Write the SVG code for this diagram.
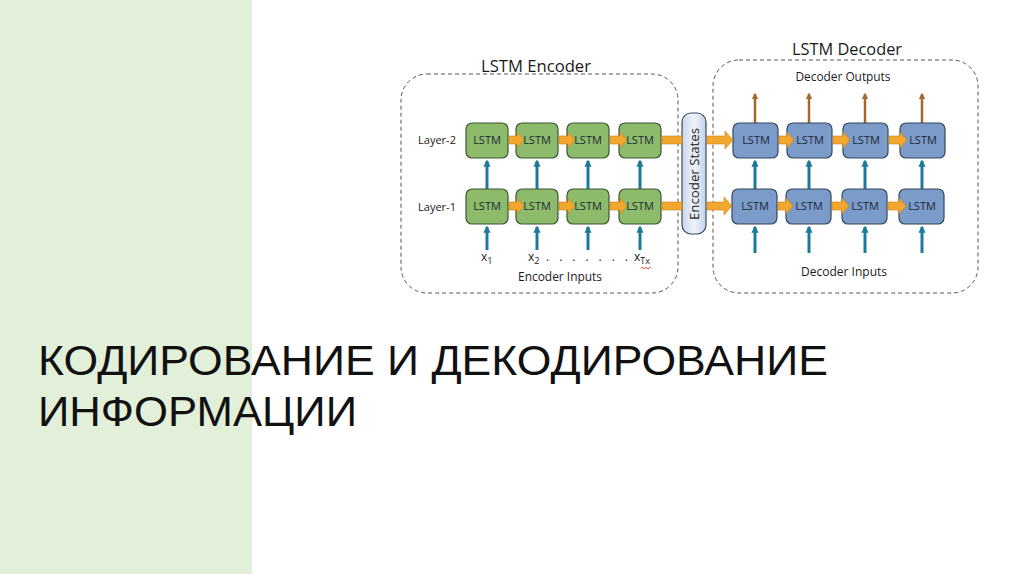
<svg xmlns="http://www.w3.org/2000/svg" width="1024" height="574" viewBox="0 0 1024 574">
<defs>
<style>
.txt{font-family:"Open Sans","Liberation Sans",sans-serif;fill:#1a1a1a}
.lbl{font-size:11px;text-anchor:middle}
.enc{fill:#8dbb6b;stroke:#3d5530;stroke-width:1.2}
.dec{fill:#7b9bc9;stroke:#33475f;stroke-width:1.2}
.box-t{font-family:"Open Sans","Liberation Sans",sans-serif;font-size:11px;text-anchor:middle;fill:#1c2a36}
.dash{fill:none;stroke:#555;stroke-width:1;stroke-dasharray:4 3}
.org{fill:#f2a72e;stroke:#c9821a;stroke-width:0.6}
.blue{stroke:#1b7a9c;stroke-width:3;fill:none}
.brown{stroke:#a4672f;stroke-width:2.5;fill:none}
</style>
<marker id="hb" viewBox="0 0 10 10" refX="8" refY="5" markerWidth="2.4" markerHeight="2.4" orient="auto">
<path d="M0,0 L10,5 L0,10 Z" fill="#1b7a9c"/>
</marker>
<marker id="hbr" viewBox="0 0 10 10" refX="8" refY="5" markerWidth="2.6" markerHeight="2.6" orient="auto">
<path d="M0,0 L10,5 L0,10 Z" fill="#a4672f"/>
</marker>
<linearGradient id="gs" x1="0" y1="0" x2="1" y2="0">
<stop offset="0" stop-color="#c9d7ea"/>
<stop offset="0.5" stop-color="#eef3fa"/>
<stop offset="1" stop-color="#c2d2e8"/>
</linearGradient>
</defs>
<rect x="0" y="0" width="1024" height="574" fill="#ffffff"/>
<rect id="sidebar" x="0" y="0" width="252" height="574" fill="#e2efd9"/>

<g id="encoder-frame">
<rect class="dash" x="401" y="74" width="277" height="219" rx="26"/>
<text class="txt" x="536" y="72" font-size="16" text-anchor="middle" textLength="110" lengthAdjust="spacingAndGlyphs">LSTM Encoder</text>
</g>
<g id="decoder-frame">
<rect class="dash" x="713" y="60" width="265" height="233" rx="26"/>
<text class="txt" x="847" y="55" font-size="16" text-anchor="middle" textLength="110" lengthAdjust="spacingAndGlyphs">LSTM Decoder</text>
<text class="txt" x="843" y="81" font-size="12" text-anchor="middle" textLength="95" lengthAdjust="spacingAndGlyphs">Decoder Outputs</text>
<text class="txt" x="844" y="276" font-size="12" text-anchor="middle" textLength="86" lengthAdjust="spacingAndGlyphs">Decoder Inputs</text>
</g>

<g id="layer-labels">
<text class="txt lbl" x="437" y="144">Layer-2</text>
<text class="txt lbl" x="437" y="211">Layer-1</text>
</g>

<g id="encoder-inputs">
<text class="txt" font-size="12"><tspan x="481" y="261">x</tspan><tspan font-size="9" dy="3">1</tspan></text>
<text class="txt" font-size="12"><tspan x="528" y="261">x</tspan><tspan font-size="9" dy="3">2</tspan></text>
<text class="txt" font-size="12" x="546" y="261" textLength="82">. . . . . . .</text>
<text class="txt" font-size="12"><tspan x="634" y="261">x</tspan><tspan font-size="9" dy="3">Tx</tspan></text>
<path d="M641,268 q1,-1.5 2,0 q1,1.5 2,0 q1,-1.5 2,0 q1,1.5 2,0 q1,-1.5 2,0" fill="none" stroke="#d03030" stroke-width="0.8"/>
<text class="txt" x="560" y="281" font-size="12" text-anchor="middle" textLength="84" lengthAdjust="spacingAndGlyphs">Encoder Inputs</text>
</g>

<g id="connectors">
<line class="blue" x1="487" y1="189" x2="487" y2="161" marker-end="url(#hb)"/>
<line class="blue" x1="537" y1="189" x2="537" y2="161" marker-end="url(#hb)"/>
<line class="blue" x1="588" y1="189" x2="588" y2="161" marker-end="url(#hb)"/>
<line class="blue" x1="640" y1="189" x2="640" y2="161" marker-end="url(#hb)"/>
<line class="blue" x1="487" y1="250" x2="487" y2="227" marker-end="url(#hb)"/>
<line class="blue" x1="537" y1="250" x2="537" y2="227" marker-end="url(#hb)"/>
<line class="blue" x1="588" y1="250" x2="588" y2="227" marker-end="url(#hb)"/>
<line class="blue" x1="640" y1="250" x2="640" y2="227" marker-end="url(#hb)"/>
<line class="blue" x1="755" y1="189" x2="755" y2="161" marker-end="url(#hb)"/>
<line class="blue" x1="809" y1="189" x2="809" y2="161" marker-end="url(#hb)"/>
<line class="blue" x1="865" y1="189" x2="865" y2="161" marker-end="url(#hb)"/>
<line class="blue" x1="922" y1="189" x2="922" y2="161" marker-end="url(#hb)"/>
<line class="blue" x1="755" y1="253" x2="755" y2="227" marker-end="url(#hb)"/>
<line class="blue" x1="809" y1="253" x2="809" y2="227" marker-end="url(#hb)"/>
<line class="blue" x1="865" y1="253" x2="865" y2="227" marker-end="url(#hb)"/>
<line class="blue" x1="922" y1="253" x2="922" y2="227" marker-end="url(#hb)"/>
<line class="brown" x1="755" y1="123" x2="755" y2="94" marker-end="url(#hbr)"/>
<line class="brown" x1="809" y1="123" x2="809" y2="94" marker-end="url(#hbr)"/>
<line class="brown" x1="865" y1="123" x2="865" y2="94" marker-end="url(#hbr)"/>
<line class="brown" x1="922" y1="123" x2="922" y2="94" marker-end="url(#hbr)"/>
</g>

<g id="encoder-l2">
<rect class="enc" x="466" y="123" width="42" height="35" rx="6"/><text class="box-t" x="487" y="144">LSTM</text>
<rect class="enc" x="516" y="123" width="42" height="35" rx="6"/><text class="box-t" x="537" y="144">LSTM</text>
<rect class="enc" x="567" y="123" width="42" height="35" rx="6"/><text class="box-t" x="588" y="144">LSTM</text>
<rect class="enc" x="619" y="123" width="42" height="35" rx="6"/><text class="box-t" x="640" y="144">LSTM</text>
</g>
<g id="encoder-l1">
<rect class="enc" x="466" y="189" width="42" height="35" rx="6"/><text class="box-t" x="487" y="210">LSTM</text>
<rect class="enc" x="516" y="189" width="42" height="35" rx="6"/><text class="box-t" x="537" y="210">LSTM</text>
<rect class="enc" x="567" y="189" width="42" height="35" rx="6"/><text class="box-t" x="588" y="210">LSTM</text>
<rect class="enc" x="619" y="189" width="42" height="35" rx="6"/><text class="box-t" x="640" y="210">LSTM</text>
</g>
<g id="decoder-l2">
<rect class="dec" x="733" y="123" width="45" height="35" rx="6"/><text class="box-t" x="756" y="144">LSTM</text>
<rect class="dec" x="787" y="123" width="45" height="35" rx="6"/><text class="box-t" x="810" y="144">LSTM</text>
<rect class="dec" x="843" y="123" width="45" height="35" rx="6"/><text class="box-t" x="866" y="144">LSTM</text>
<rect class="dec" x="900" y="123" width="45" height="35" rx="6"/><text class="box-t" x="923" y="144">LSTM</text>
</g>
<g id="decoder-l1">
<rect class="dec" x="732" y="189" width="45" height="35" rx="6"/><text class="box-t" x="755" y="210">LSTM</text>
<rect class="dec" x="786" y="189" width="45" height="35" rx="6"/><text class="box-t" x="809" y="210">LSTM</text>
<rect class="dec" x="842" y="189" width="45" height="35" rx="6"/><text class="box-t" x="865" y="210">LSTM</text>
<rect class="dec" x="899" y="189" width="45" height="35" rx="6"/><text class="box-t" x="922" y="210">LSTM</text>
</g>

<g id="encoder-states">
<rect x="682" y="113" width="24" height="121" rx="9" fill="url(#gs)" stroke="#3a4a5c" stroke-width="1.2"/>
<text class="txt" transform="translate(698.5,174) rotate(-90)" font-size="12.5" text-anchor="middle" textLength="92" lengthAdjust="spacingAndGlyphs">Encoder States</text>
</g>

<g id="state-arrows">
<path class="org" d="M509,136 h8 v-4 l7,8 l-7,8 v-4 h-8 Z"/>
<path class="org" d="M559,136 h9 v-4 l7,8 l-7,8 v-4 h-9 Z"/>
<path class="org" d="M610,136 h10 v-4 l7,8 l-7,8 v-4 h-10 Z"/>
<path class="org" d="M509,202 h8 v-4 l7,8 l-7,8 v-4 h-8 Z"/>
<path class="org" d="M559,202 h9 v-4 l7,8 l-7,8 v-4 h-9 Z"/>
<path class="org" d="M610,202 h10 v-4 l7,8 l-7,8 v-4 h-10 Z"/>
<rect class="org" x="662" y="136" width="20" height="8"/>
<rect class="org" x="662" y="202" width="20" height="8"/>
<path class="org" d="M707,136 h18 v-5 l8,9 l-8,9 v-5 h-18 Z"/>
<path class="org" d="M707,202 h17 v-5 l8,9 l-8,9 v-5 h-17 Z"/>
<path class="org" d="M779,136 h8 v-4 l7,8 l-7,8 v-4 h-8 Z"/>
<path class="org" d="M833,136 h10 v-4 l7,8 l-7,8 v-4 h-10 Z"/>
<path class="org" d="M889,136 h11 v-4 l7,8 l-7,8 v-4 h-11 Z"/>
<path class="org" d="M778,202 h8 v-4 l7,8 l-7,8 v-4 h-8 Z"/>
<path class="org" d="M832,202 h10 v-4 l7,8 l-7,8 v-4 h-10 Z"/>
<path class="org" d="M888,202 h11 v-4 l7,8 l-7,8 v-4 h-11 Z"/>
</g>

<g id="title">
<text x="38" y="375" font-family="Liberation Sans, Arial, sans-serif" font-size="42" fill="#111" textLength="790" lengthAdjust="spacingAndGlyphs">КОДИРОВАНИЕ И ДЕКОДИРОВАНИЕ</text>
<text x="38" y="426" font-family="Liberation Sans, Arial, sans-serif" font-size="42" fill="#111" textLength="319" lengthAdjust="spacingAndGlyphs">ИНФОРМАЦИИ</text>
</g>
</svg>
